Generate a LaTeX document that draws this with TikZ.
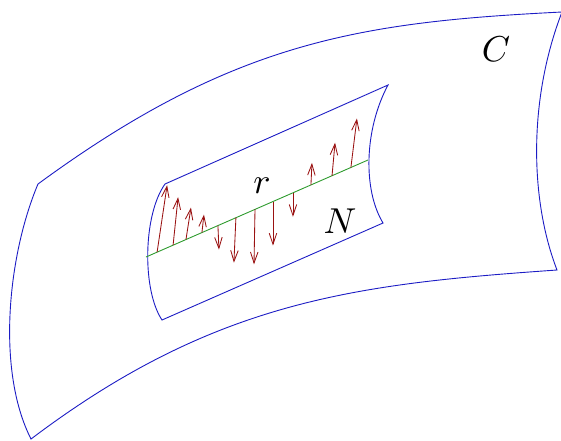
\documentclass[tikz,border=0pt]{standalone}
\usepackage{xcolor}
\usetikzlibrary{arrows.meta,calc}
\definecolor{wallblue}{HTML}{1C1CC4}
\definecolor{vecred}{HTML}{9A1212}
\definecolor{ridgegreen}{HTML}{2E9B2E}

\begin{document}
\begin{tikzpicture}[x=1pt,y=-1pt,
  lbl/.style={scale=3.6,inner sep=0pt},
  wall/.style={draw=wallblue,line width=0.9pt,line join=miter},
  ridge/.style={draw=ridgegreen,line width=0.9pt},
  vec/.style={-{Straight Barb[length=11pt,width=7.5pt]},draw=vecred,line width=0.85pt}]
\useasboundingbox (0,0) rectangle (561,440);
% outer piece C
\coordinate (c1) at (38,184);  \coordinate (c2) at (562,12);
\coordinate (c3) at (557,270); \coordinate (c4) at (31,439);
\draw[wall] (c1) .. controls (233,41) and (361,22) .. (c2)
  .. controls (528,100) and (530,200) .. (c3)
  .. controls (357,284) and (215,300) .. (c4)
  .. controls (-4,370) and (8,255) .. cycle;
% inner piece N
\coordinate (n1) at (165,184); \coordinate (n2) at (388,85);
\coordinate (n3) at (383,223); \coordinate (n4) at (162,320);
\draw[wall] (n1) -- (n2) .. controls (364,130) and (363,190) .. (n3)
  -- (n4) .. controls (142,290) and (143,215) .. cycle;
% the line r and its vectors
\coordinate (g0) at (146,257); \coordinate (g1) at (368,160);
\draw[ridge] (g0) -- (g1);
\foreach \t/\dx/\dy in {0.050/10/-67, 0.122/5/-48, 0.180/5/-32, 0.252/2/-18,
    0.324/1/24, 0.405/-2/45, 0.491/-1/55, 0.572/0/44,
    0.662/0/24, 0.743/1/-22, 0.838/3/-33, 0.923/6/-49}
  \draw[vec] ($(g0)!\t!(g1)$) -- ++(\dx,\dy);
\node[lbl] (lblr) at (262,186) {$r$};
\node[lbl] (lblN) at (340,221) {$N$};
\node[lbl] (lblC) at (496,49) {$C$};
\end{tikzpicture}
\end{document}
